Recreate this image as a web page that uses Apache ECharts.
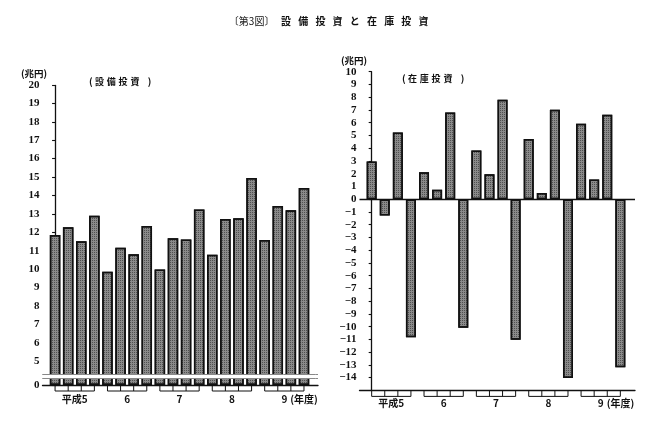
<!DOCTYPE html>
<html>
<head>
<meta charset="utf-8">
<script src="https://cdn.jsdelivr.net/npm/echarts@6/dist/echarts.min.js"></script>
<style>
html,body{margin:0;padding:0;background:#fff;}
#c{width:661px;height:426px;}
</style>
</head>
<body>
<div id="c"></div>
<script>
// ---- data ----
const quarters = ['4-6月', '7-9月', '10-12月', '1-3月'];
const years = ['平成5', '6', '7', '8', '9'];
const yearUnit = '(年度)';
// 設備投資 (兆円), quarterly
const capex = [11.85, 12.27, 11.51, 12.89,
               9.85, 11.16, 10.80, 12.34,
               9.98, 11.67, 11.60, 13.23,
               10.78, 12.72, 12.76, 14.95,
               11.58, 13.43, 13.20, 14.40];
// 在庫投資 (兆円), quarterly
const inventory = [2.95, -1.29, 5.23, -10.83,
                   2.12, 0.73, 6.80, -10.08,
                   3.82, 1.96, 7.80, -11.02,
                   4.73, 0.49, 7.01, -14.03,
                   5.91, 1.54, 6.62, -13.19];
// tick labels
const capexTicks = [0, 5, 6, 7, 8, 9, 10, 11, 12, 13, 14, 15, 16, 17, 18, 19, 20];
const capexBreak = [0.35, 4.28];  // axis break (0〜5 compressed)
const invTicks = [-14, -13, -12, -11, -10, -9, -8, -7, -6, -5, -4, -3, -2, -1, 0, 1, 2, 3, 4, 5, 6, 7, 8, 9, 10];
const invRange = [-15, 10];
const titleText = '設備投資と在庫投資';
const figNo = '〔第3図〕';
const unitText = '(兆円)';
const leftName = '設備投資';
const rightName = '在庫投資';

// ---- chart ----
const numFont = 'Liberation Serif';
const jpFont = '"Noto Sans CJK JP"';
const ink = '#111';
const barFill = '#8a8a8a';

const slotIdx = [];
years.forEach((y, k) => quarters.forEach((q, j) => slotIdx.push(k * quarters.length + j)));

function spaced(str, style) {
  return str.split('').map(ch => '{' + style + '|' + ch + '}').join('');
}
function panelName(str) {
  return '{o|(}' + spaced(str, 'c') + '{e|)}';
}
const panelRich = {
  o: { fontFamily: jpFont, fontSize: 9.5, fontWeight: 'bold', color: ink, padding: [0, 1, 0, 0] },
  c: { fontFamily: jpFont, fontSize: 9, fontWeight: 'bold', color: ink, padding: [0, 1.4, 0, 1.4] },
  e: { fontFamily: jpFont, fontSize: 9.5, fontWeight: 'bold', color: ink, padding: [0, 0, 0, 7] }
};

function bracketRenderer(yBase, drop, labelDy) {
  return function (params, api) {
    const k = api.value(0);
    const xs = quarters.map((q, j) => api.coord([k * quarters.length + j, yBase])[0]);
    const y0 = api.coord([0, yBase])[1];
    const st = { stroke: ink, lineWidth: 1 };
    const children = xs.map(x => ({ type: 'line', shape: { x1: x, y1: y0, x2: x, y2: y0 + drop }, style: st }));
    children.push({ type: 'line', shape: { x1: xs[0], y1: y0 + drop, x2: xs[xs.length - 1], y2: y0 + drop }, style: st });
    const cx = (xs[0] + xs[xs.length - 1]) / 2;
    children.push({ type: 'text', style: { text: years[k], x: cx, y: y0 + labelDy, align: 'center', verticalAlign: 'middle',
      font: 'bold 10px ' + jpFont, fill: ink } });
    if (k === years.length - 1) {
      children.push({ type: 'text', style: { text: yearUnit, x: cx + 6, y: y0 + labelDy, align: 'left', verticalAlign: 'middle',
        font: 'bold 10px ' + jpFont, fill: ink } });
    }
    return { type: 'group', children };
  };
}

const fmtNum = v => (v < 0 ? '\u2212' + Math.abs(v) : String(v));

const yCommon = {
  type: 'value',
  splitLine: { show: false },
  axisLine: { show: true, lineStyle: { color: ink, width: 1.3 } },
  axisTick: { show: true, length: 3, lineStyle: { color: ink, width: 1.1 } },
  axisLabel: { color: ink, fontFamily: numFont, fontWeight: 'bold', fontSize: 11, margin: 3, formatter: fmtNum }
};

const barStyle = {
  color: barFill, borderColor: ink, borderWidth: 1.5,
  decal: { symbol: 'rect', symbolSize: 1, color: 'rgba(0,0,0,0.42)', dashArrayX: [1, 1], dashArrayY: [1, 1], rotation: 0 }
};

const option = {
  backgroundColor: '#fff',
  animation: false,
  title: [
    { text: figNo + '{g|　}' + spaced(titleText, 'b'), left: 'center', top: 11,
      textStyle: { fontFamily: jpFont, fontSize: 10, fontWeight: 'normal', color: ink,
        rich: { g: { fontSize: 3 }, b: { fontFamily: jpFont, fontSize: 10, fontWeight: 'bold', color: ink, padding: [0, 3.6, 0, 3.6] } } } },
    { text: unitText, left: 16, top: 64, textStyle: { fontFamily: jpFont, fontSize: 9.5, fontWeight: 'bold', color: ink } },
    { text: panelName(leftName), left: 84, top: 72, textStyle: { rich: panelRich } },
    { text: unitText, left: 336, top: 51, textStyle: { fontFamily: jpFont, fontSize: 9.5, fontWeight: 'bold', color: ink } },
    { text: panelName(rightName), left: 397, top: 69, textStyle: { rich: panelRich } }
  ],
  grid: [
    { left: 42.5, top: 85, width: 275.5, height: 300 },
    { left: 359.5, top: 71.7, width: 275.5, height: 318.7 }
  ],
  xAxis: [
    { gridIndex: 0, type: 'value', min: -0.96, max: 20.07, splitLine: { show: false },
      axisLine: { show: true, onZero: false, lineStyle: { color: ink, width: 1.3 } },
      axisTick: { show: false }, axisLabel: { show: false } },
    { gridIndex: 1, type: 'value', min: -0.93, max: 20.12, splitLine: { show: false },
      axisLine: { show: true, onZero: false, lineStyle: { color: ink, width: 1.3 } },
      axisTick: { show: false }, axisLabel: { show: false } }
  ],
  yAxis: [
    Object.assign({}, yCommon, {
      gridIndex: 0, min: capexTicks[0], max: capexTicks[capexTicks.length - 1],
      breaks: [{ start: capexBreak[0], end: capexBreak[1], gap: '1.4%' }],
      breakArea: { show: true, expandOnClick: false, zigzagAmplitude: 0,
        itemStyle: { color: '#fff', borderColor: ink, borderWidth: 1, borderType: 'solid', opacity: 1 } },
      axisTick: Object.assign({}, yCommon.axisTick, { customValues: capexTicks }),
      axisLabel: Object.assign({}, yCommon.axisLabel, { customValues: capexTicks })
    }),
    Object.assign({}, yCommon, {
      gridIndex: 1, min: invRange[0], max: invRange[1],
      axisTick: Object.assign({}, yCommon.axisTick, { customValues: invTicks }),
      axisLabel: Object.assign({}, yCommon.axisLabel, { customValues: invTicks })
    })
  ],
  series: [
    { type: 'bar', xAxisIndex: 0, yAxisIndex: 0, barWidth: 10.5,
      data: capex.map((v, i) => [slotIdx[i], v]), itemStyle: barStyle },
    { type: 'bar', xAxisIndex: 1, yAxisIndex: 1, barWidth: 10,
      data: inventory.map((v, i) => [slotIdx[i], v]), itemStyle: barStyle,
      markLine: { silent: true, symbol: 'none', label: { show: false },
        lineStyle: { color: ink, width: 1.3, type: 'solid' }, data: [{ yAxis: 0 }] } },
    { type: 'custom', xAxisIndex: 0, yAxisIndex: 0, clip: false, silent: true,
      data: years.map((y, k) => [k, 0]),
      renderItem: bracketRenderer(capexTicks[0], 6, 14) },
    { type: 'custom', xAxisIndex: 1, yAxisIndex: 1, clip: false, silent: true,
      data: years.map((y, k) => [k, 0]),
      renderItem: bracketRenderer(invRange[0], 6, 13) }
  ]
};

const chart = echarts.init(document.getElementById('c'), null, { renderer: 'canvas' });
chart.setOption(option);
</script>
</body>
</html>
